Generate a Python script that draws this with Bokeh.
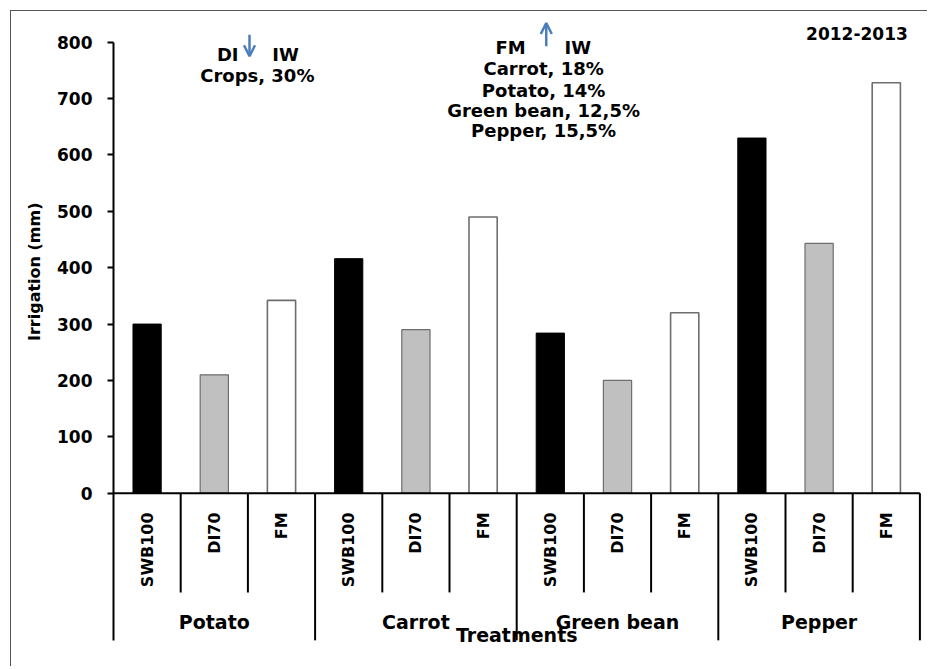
import math
from bokeh.plotting import figure
from bokeh.models import Range1d, FixedTicker, Title, Arrow, OpenHead
from bokeh.core.properties import value
from bokeh.embed import file_html
from bokeh.resources import INLINE

# ---------------- data ----------------
crops = ["Potato", "Carrot", "Green bean", "Pepper"]
treatments = ["SWB100", "DI70", "FM"]
swb100 = [300, 416, 284, 630]
di70 = [210, 290, 200, 443]
fm = [342, 490, 320, 728]
y_ticks = [0, 100, 200, 300, 400, 500, 600, 700, 800]
y_label = "Irrigation (mm)"
x_label = "Treatments"
season = "2012-2013"
di_head = ["DI", "IW"]
di_line = "Crops, 30%"
fm_head = ["FM", "IW"]
fm_lines = ["Carrot, 18%", "Potato, 14%", "Green bean, 12,5%", "Pepper, 15,5%"]

# ---------------- layout constants ----------------
FONT = value("DejaVu Sans")
W, H = 917, 656
BORDER_LEFT = 102
SLOT_PX = 67.2
Y_PX = 0.56375
ZERO_CANVAS = 481.7
x_end = (W - BORDER_LEFT) / SLOT_PX
y_top = ZERO_CANVAS / Y_PX
y_bottom = -(H - ZERO_CANVAS) / Y_PX

p = figure(width=W, height=H, output_backend="svg", toolbar_location=None,
           x_range=Range1d(0, x_end), y_range=Range1d(y_bottom, y_top),
           min_border_left=BORDER_LEFT, min_border_right=0,
           min_border_top=0, min_border_bottom=0)
p.styles = {"margin-left": "10px", "margin-top": "10px",
            "border-left": "1px solid #555555", "border-top": "1px solid #555555"}
p.xaxis.visible = False
p.xgrid.visible = False
p.ygrid.visible = False
p.outline_line_color = None
p.background_fill_color = "white"
p.border_fill_color = "white"

TABLE_INNER = -176
TABLE_OUTER = -261

ax = p.yaxis[0]
ax.ticker = FixedTicker(ticks=y_ticks)
ax.bounds = (TABLE_OUTER, max(y_ticks))
ax.axis_line_width = 2
ax.axis_line_color = "black"
ax.major_tick_line_width = 2
ax.major_tick_line_color = "black"
ax.major_tick_out = 6
ax.major_tick_in = 0
ax.minor_tick_line_color = None
ax.major_label_standoff = 15
ax.major_label_text_font = "DejaVu Sans"
ax.major_label_text_font_style = "bold"
ax.major_label_text_font_size = "17px"
ax.major_label_text_color = "black"

# y-axis title (side title so it sits beside the 0-800 scale)
p.add_layout(Title(text=y_label, align="right", offset=191, standoff=22,
                   text_font="DejaVu Sans", text_font_style="bold",
                   text_font_size="16px", text_color="black"), "left")

# ---------------- bars ----------------
n_t = len(treatments)
series = [(swb100, "black", "black", 1),
          (di70, "#c0c0c0", "#6e6e6e", 1.2),
          (fm, "white", "#6e6e6e", 1.6)]
for t, (vals, fill, line, lw) in enumerate(series):
    xs = [g * n_t + t + 0.5 for g in range(len(crops))]
    p.vbar(x=xs, top=vals, bottom=0, width=0.42, fill_color=fill,
           line_color=line, line_width=lw)

# ---------------- category table ----------------
n_slots = len(crops) * n_t
p.segment(x0=[0], y0=[0], x1=[n_slots], y1=[0], line_color="black", line_width=2)
inner = [g * n_t + t for g in range(len(crops)) for t in range(1, n_t)]
outer = [g * n_t for g in range(1, len(crops) + 1)]
p.segment(x0=inner, y0=[0] * len(inner), x1=inner, y1=[TABLE_INNER] * len(inner),
          line_color="black", line_width=2)
p.segment(x0=outer, y0=[0] * len(outer), x1=outer, y1=[TABLE_OUTER] * len(outer),
          line_color="black", line_width=2)

tx = [g * n_t + t + 0.5 for g in range(len(crops)) for t in range(n_t)]
tt = [treatments[t] for g in range(len(crops)) for t in range(n_t)]
p.text(x=tx, y=[-34] * len(tx), text=tt, angle=math.pi / 2,
       text_align="right", text_baseline="middle", text_font=FONT,
       text_font_style="bold", text_font_size="16px", text_color="black")

gx = [g * n_t + n_t / 2 for g in range(len(crops))]
p.text(x=gx, y=[-229] * len(gx), text=crops, text_align="center",
       text_baseline="middle", text_font=FONT, text_font_style="bold",
       text_font_size="19px", text_color="black")

p.text(x=[n_slots / 2], y=[-251], text=[x_label], text_align="center",
       text_baseline="middle", text_font=FONT, text_font_style="bold",
       text_font_size="19px", text_color="black")

# ---------------- annotations ----------------
p.text(x=[11.82], y=[815.5], text=[season], text_align="right",
       text_baseline="middle", text_font=FONT, text_font_style="bold",
       text_font_size="17px", text_color="black")

p.text(x=[1.70, 2.56], y=[779, 779], text=di_head, text_align="center",
       text_baseline="middle", text_font=FONT, text_font_style="bold",
       text_font_size="18px", text_color="black")
p.text(x=[2.14], y=[741], text=[di_line], text_align="center",
       text_baseline="middle", text_font=FONT, text_font_style="bold",
       text_font_size="18px", text_color="black")

p.text(x=[5.91, 6.91], y=[790, 790], text=fm_head, text_align="center",
       text_baseline="middle", text_font=FONT, text_font_style="bold",
       text_font_size="18px", text_color="black")
p.text(x=[6.4] * len(fm_lines), y=[752.5, 715, 679, 642.5], text=fm_lines,
       text_align="center", text_baseline="middle", text_font=FONT,
       text_font_style="bold", text_font_size="18px", text_color="black")

BLUE = "#4a7ebb"
p.add_layout(Arrow(x_start=2.024, y_start=813, x_end=2.024, y_end=775,
                   line_color=BLUE, line_width=2.5,
                   end=OpenHead(size=11, line_color=BLUE, line_width=2.5)))
p.add_layout(Arrow(x_start=6.44, y_start=793, x_end=6.44, y_end=834,
                   line_color=BLUE, line_width=2.5,
                   end=OpenHead(size=11, line_color=BLUE, line_width=2.5)))

open("out.html", "w").write(file_html(p, INLINE))
